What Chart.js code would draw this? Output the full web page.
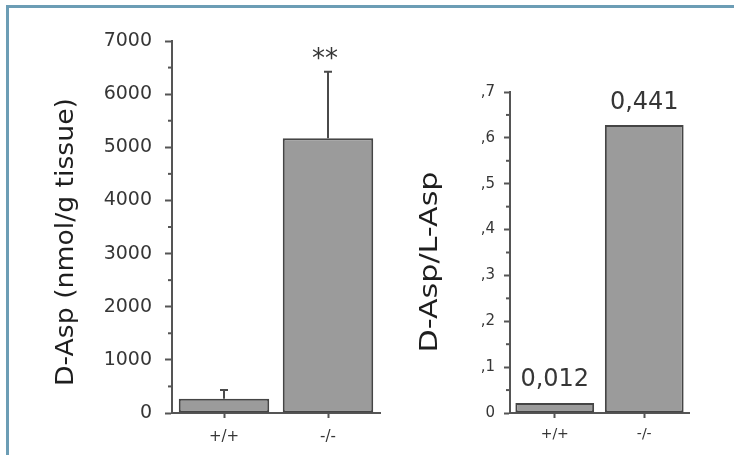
<!DOCTYPE html>
<html>
<head>
<meta charset="utf-8">
<script src="https://cdn.jsdelivr.net/npm/chart.js@4.4.1/dist/chart.umd.min.js"></script>
<style>
  html, body { margin: 0; padding: 0; background: #fff; }
  #wrap { position: relative; width: 734px; height: 455px; overflow: hidden; }
  #frame { position: absolute; left: 6px; top: 5px; width: 800px; height: 600px;
           border-left: 3px solid #6c9db5; border-top: 3px solid #6c9db5; }
  #c1 { position: absolute; left: 0; top: 0; }
  #c2 { position: absolute; left: 400px; top: 0; }
</style>
</head>
<body>
<div id="wrap">
  <div id="frame"></div>
  <canvas id="c1" width="400" height="455"></canvas>
  <canvas id="c2" width="334" height="455"></canvas>
</div>
<script>
// datos
const genotypes = ['+/+', '-/-'];
const dAspTissue = [270, 5170];
const dAspTissueErr = [165, 1250];
const tissueMarks = ['', '**'];
const tissueTickLabels = ['0', '1000', '2000', '3000', '4000', '5000', '6000', '7000'];
const dAspRatio = [0.022, 0.628];
const ratioLabels = ['0,012', '0,441'];
const ratioTickLabels = ['0', ',1', ',2', ',3', ',4', ',5', ',6', ',7'];

const axisColor = '#555';
const textColor = '#363636';

// barras de error (solo hacia arriba)
const errorBars = {
  id: 'errorBars',
  afterDatasetsDraw(chart, args, opts) {
    if (!opts.errors) return;
    const ctx = chart.ctx;
    const y = chart.scales.y;
    const meta = chart.getDatasetMeta(0);
    ctx.save();
    ctx.strokeStyle = '#4a4a4a';
    ctx.lineWidth = 2;
    meta.data.forEach((bar, i) => {
      const v = chart.data.datasets[0].data[i];
      const top = y.getPixelForValue(v + opts.errors[i]);
      ctx.beginPath();
      ctx.moveTo(bar.x, bar.y);
      ctx.lineTo(bar.x, top);
      ctx.moveTo(bar.x - 4, top);
      ctx.lineTo(bar.x + 4, top);
      ctx.stroke();
    });
    ctx.restore();
  }
};

// ticks menores en el eje y
const minorTicks = {
  id: 'minorTicks',
  afterDraw(chart) {
    const ctx = chart.ctx;
    const y = chart.scales.y;
    const x0 = chart.chartArea.left;
    ctx.save();
    ctx.strokeStyle = axisColor;
    ctx.lineWidth = 2;
    for (let i = 0; i < y.ticks.length - 1; i++) {
      const py = y.getPixelForValue((y.ticks[i].value + y.ticks[i + 1].value) / 2);
      ctx.beginPath();
      ctx.moveTo(x0 - 4, py);
      ctx.lineTo(x0, py);
      ctx.stroke();
    }
    ctx.restore();
  }
};

// textos sobre las barras y titulo del eje
const barTexts = {
  id: 'barTexts',
  afterDraw(chart, args, opts) {
    const ctx = chart.ctx;
    const y = chart.scales.y;
    const meta = chart.getDatasetMeta(0);
    const data = chart.data.datasets[0].data;
    ctx.save();
    ctx.fillStyle = textColor;
    ctx.font = opts.font;
    ctx.textAlign = 'center';
    opts.texts.forEach((t, i) => {
      if (!t) return;
      const top = data[i] + (opts.errors ? opts.errors[i] : 0);
      const m = ctx.measureText(t);
      const h = m.actualBoundingBoxAscent + m.actualBoundingBoxDescent;
      const cy = y.getPixelForValue(top) - opts.gap;
      ctx.textBaseline = 'alphabetic';
      ctx.fillText(t, meta.data[i].x + (opts.dx || 0), cy + h / 2 - m.actualBoundingBoxDescent);
    });
    // titulo vertical
    const tt = opts.title;
    ctx.translate(tt.x, tt.cy);
    ctx.rotate(-Math.PI / 2);
    ctx.font = tt.font;
    ctx.fillStyle = '#1e1e1e';
    const w = ctx.measureText(tt.text).width;
    ctx.scale(tt.len / w, 1);
    ctx.textBaseline = 'alphabetic';
    ctx.fillText(tt.text, 0, 0);
    ctx.restore();
  }
};

// grafica D-Asp nmol/g
new Chart(document.getElementById('c1'), {
  type: 'bar',
  data: {
    labels: genotypes,
    datasets: [{
      data: dAspTissue,
      backgroundColor: '#9b9b9b',
      borderColor: '#454545',
      borderWidth: 2,
      borderSkipped: false,
      barPercentage: 0.87,
      categoryPercentage: 1
    }]
  },
  options: {
    responsive: false,
    animation: false,
    layout: { padding: { top: 41, right: 20, bottom: 0, left: 0 } },
    plugins: {
      legend: { display: false },
      tooltip: { enabled: false },
      errorBars: { errors: dAspTissueErr },
      barTexts: {
        texts: tissueMarks, errors: dAspTissueErr, gap: 18, dx: -3,
        font: '26px "DejaVu Sans"',
        title: { text: 'D-Asp (nmol/g tissue)', x: 73, cy: 242, len: 288, font: '24px "DejaVu Sans"' }
      }
    },
    scales: {
      x: {
        grid: { offset: false, drawOnChartArea: false, tickLength: 5, tickColor: axisColor, tickWidth: 2 },
        border: { color: axisColor, width: 2 },
        ticks: { color: textColor, font: { family: 'DejaVu Sans', size: 15 }, padding: 10 },
        afterFit: s => { s.height = 42; }
      },
      y: {
        min: 0,
        max: 7000,
        ticks: {
          stepSize: 1000, color: textColor, font: { family: 'DejaVu Sans', size: 19 }, padding: 13,
          callback: (v, i) => tissueTickLabels[i]
        },
        grid: { drawOnChartArea: false, tickLength: 7, tickColor: axisColor, tickWidth: 2 },
        border: { color: axisColor, width: 2 },
        afterFit: s => { s.width = 172; }
      }
    }
  },
  plugins: [errorBars, minorTicks, barTexts]
});

// grafica D-Asp/L-Asp
new Chart(document.getElementById('c2'), {
  type: 'bar',
  data: {
    labels: genotypes,
    datasets: [{
      data: dAspRatio,
      backgroundColor: '#9b9b9b',
      borderColor: '#454545',
      borderWidth: 2,
      borderSkipped: false,
      barPercentage: 0.88,
      categoryPercentage: 1
    }]
  },
  options: {
    responsive: false,
    animation: false,
    layout: { padding: { top: 92, right: 45, bottom: 0, left: 0 } },
    plugins: {
      legend: { display: false },
      tooltip: { enabled: false },
      barTexts: {
        texts: ratioLabels, gap: 24,
        font: '24px "DejaVu Sans"',
        title: { text: 'D-Asp/L-Asp', x: 37, cy: 262, len: 181, font: '25px "DejaVu Sans"' }
      }
    },
    scales: {
      x: {
        grid: { offset: false, drawOnChartArea: false, tickLength: 5, tickColor: axisColor, tickWidth: 2 },
        border: { color: axisColor, width: 2 },
        ticks: { color: textColor, font: { family: 'DejaVu Sans', size: 14 }, padding: 8 },
        afterFit: s => { s.height = 42; }
      },
      y: {
        min: 0,
        max: 0.7,
        ticks: {
          stepSize: 0.1, color: textColor, font: { family: 'DejaVu Sans', size: 15 }, padding: 9,
          callback: (v, i) => ratioTickLabels[i]
        },
        grid: { drawOnChartArea: false, tickLength: 6, tickColor: axisColor, tickWidth: 2 },
        border: { color: axisColor, width: 2 },
        afterFit: s => { s.width = 110; }
      }
    }
  },
  plugins: [minorTicks, barTexts]
});
</script>
</body>
</html>
